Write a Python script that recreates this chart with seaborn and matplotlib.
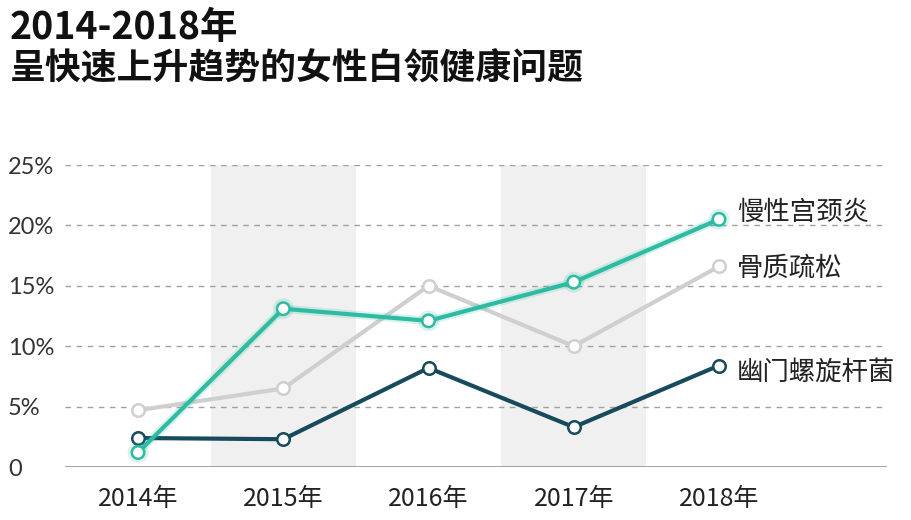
import matplotlib
matplotlib.use("Agg")
import matplotlib.pyplot as plt
import matplotlib.patheffects as pe
import seaborn as sns
import pandas as pd

years = ["2014年", "2015年", "2016年", "2017年", "2018年"]
cervicitis = [1.2, 13.1, 12.1, 15.3, 20.5]
osteoporosis = [4.7, 6.5, 15.0, 10.0, 16.6]
hpylori = [2.4, 2.3, 8.2, 3.3, 8.4]
series_names = ["慢性宫颈炎", "骨质疏松", "幽门螺旋杆菌"]
ytick_vals = [0, 5, 10, 15, 20, 25]
ytick_labels = ["0", "5%", "10%", "15%", "20%", "25%"]
title_lines = ["2014-2018年", "呈快速上升趋势的女性白领健康问题"]

colors = {"慢性宫颈炎": "#2dbba2", "骨质疏松": "#cfcfcf", "幽门螺旋杆菌": "#174a5b"}

sns.set_theme(style="white")
plt.rcParams["font.family"] = ["Noto Sans CJK SC", "DejaVu Sans"]

W, H = 912, 520
fig = plt.figure(figsize=(W / 100, H / 100), dpi=100)
left, right, bottom, top = 65, 887, 467, 165
ax = fig.add_axes([left / W, 1 - bottom / H, (right - left) / W, (bottom - top) / H])

xs = list(range(len(years)))
df = pd.DataFrame({
    "x": xs * 3,
    "v": cervicitis + osteoporosis + hpylori,
    "s": [series_names[0]] * 5 + [series_names[1]] * 5 + [series_names[2]] * 5,
})

# shaded bands for 2015 and 2017
for i in (1, 3):
    ax.axvspan(i - 0.5, i + 0.5, ymin=0, ymax=1, color="#f0f0f0", zorder=0, lw=0)

# grid lines
for v in ytick_vals[1:]:
    ax.axhline(v, color="#a0a0a0", lw=1, ls=(0, (4, 4)), zorder=1)
ax.axhline(0, color="#9a9a9a", lw=2, zorder=1)

order = [series_names[1], series_names[2], series_names[0]]
for name in order:
    sub = df[df["s"] == name]
    sns.lineplot(data=sub, x="x", y="v", ax=ax, color=colors[name], lw=3,
                 marker="o", markersize=9, markerfacecolor="white",
                 markeredgecolor=colors[name], markeredgewidth=1.8,
                 zorder=3, legend=False)

for line in ax.lines[-3:]:
    if line.get_color() == colors["慢性宫颈炎"]:
        line.set_path_effects([pe.Stroke(linewidth=6, foreground="#2dbba2", alpha=0.18), pe.Normal()])

ax.set_xlim(-0.503, 5.157)
ax.set_ylim(0, 25)
ax.set_xticks(xs)
ax.set_xticklabels(years, family=["Liberation Sans Narrow", "Noto Sans CJK SC"], fontsize=18, color="#222222")
ax.set_yticks(ytick_vals)
ax.set_yticklabels(ytick_labels, family=["Lato", "DejaVu Sans"], fontweight="normal", fontsize=17, color="#333333")
for lab in ax.get_yticklabels():
    lab.set_horizontalalignment("left")
ax.tick_params(axis="y", length=0, pad=41)
ax.tick_params(axis="x", length=0, pad=14)
ax.set_xlabel("")
ax.set_ylabel("")
for sp in ax.spines.values():
    sp.set_visible(False)

# series labels
last = {series_names[0]: cervicitis[-1], series_names[1]: osteoporosis[-1], series_names[2]: hpylori[-1]}
offsets = {series_names[0]: 5, series_names[1]: -1, series_names[2]: -5}
for name in series_names:
    ax.annotate(name, xy=(xs[-1], last[name]), xytext=(13, offsets[name]), textcoords="offset points",
                ha="left", va="center", fontsize=19, color="#222222", annotation_clip=False)

fig.text(10 / W, 1 - 27 / H, title_lines[0], fontsize=27, fontweight="bold", color="#111111", va="center", ha="left")
fig.text(10 / W, 1 - 69 / H, title_lines[1], fontsize=25.8, fontweight="bold", color="#111111", va="center", ha="left")

fig.savefig("out.png", dpi=100)
